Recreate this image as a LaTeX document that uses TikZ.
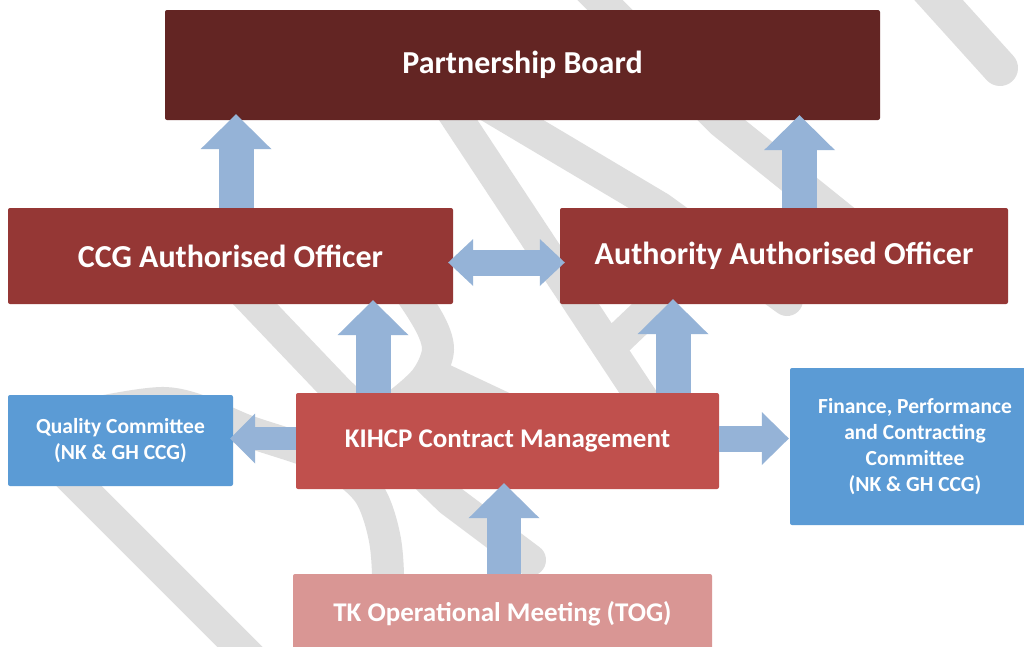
\documentclass[tikz,border=0pt]{standalone}
\usepackage{fontspec}
\setmainfont{Carlito}
\usetikzlibrary{arrows.meta,calc}
\definecolor{pbcol}{RGB}{99,37,35}
\definecolor{aocol}{RGB}{149,55,53}
\definecolor{kcol}{RGB}{192,80,77}
\definecolor{tkcol}{RGB}{217,150,148}
\definecolor{bcol}{RGB}{91,155,213}
\definecolor{acol}{RGB}{149,179,215}
\definecolor{wm}{RGB}{222,222,222}
\begin{document}
\begin{tikzpicture}[x=1pt,y=-1pt,
  box/.style={rectangle, rounded corners=2pt, inner sep=0pt, text=white, align=center},
  wmk/.style={draw=wm, line width=32pt, line cap=round, line join=round},
  uparr/.style={draw=acol, line width=35pt, -{Triangle[width=71pt,length=35pt,line width=0pt]}},
  dblarr/.style={draw=acol, line width=26pt, {Triangle[width=47pt,length=25pt,line width=0pt]}-{Triangle[width=47pt,length=25pt,line width=0pt]}},
  leftarr/.style={draw=acol, line width=23pt, -{Triangle[width=50pt,length=25pt,line width=0pt]}},
  rightarr/.style={draw=acol, line width=26pt, -{Triangle[width=53pt,length=27pt,line width=0pt]}}
]
\clip (0,0) rectangle (1024,646);
\fill[white] (0,0) rectangle (1024,646);

% watermark strokes
\draw[wmk, line width=36pt] (925,-15) -- (1000,68);
\draw[wmk] (585,-15) -- (722,122) -- (850,225);
\draw[wmk] (445,100) -- (655,418);
\draw[wmk] (470,95) -- (660,208) -- (787,300);
\draw[wmk] (612,345) -- (712,250);
\draw[wmk] (215,262) -- (337,390) -- (450,500) -- (530,560);
\draw[wmk] plot[smooth] coordinates {(330,230) (395,275) (428,320) (438,350) (425,380) (390,410) (350,430)};
\draw[wmk] (440,378) -- (610,458);
\draw[wmk] (30,437) -- (290,697);
\draw[wmk] plot[smooth] coordinates {(40,425) (165,403) (250,432) (325,458) (368,492) (385,540) (388,600) (380,670)};

% boxes
\node[box, fill=pbcol, minimum width=715pt, minimum height=110pt, font=\bfseries\fontsize{32}{38}\selectfont] (pb) at (522.5,65) {Partnership Board};
\node[box, fill=aocol, minimum width=445pt, minimum height=96pt, font=\bfseries\fontsize{32}{38}\selectfont] (ccg) at (230.5,256) {CCG Authorised Officer};
\node[box, fill=aocol, minimum width=448pt, minimum height=96pt, font=\bfseries\fontsize{32}{38}\selectfont] (auth) at (784,256) {Authority Authorised Officer};
\node[box, fill=bcol, minimum width=225pt, minimum height=91pt, font=\bfseries\fontsize{21.5}{26.5}\selectfont] (qc) at (120.5,440.5) {Quality Committee\\(NK \& GH CCG)};
\node[box, fill=kcol, minimum width=423pt, minimum height=96pt, font=\bfseries\fontsize{27}{32}\selectfont] (kihcp) at (507.5,441) {KIHCP Contract Management};
\node[box, fill=bcol, minimum width=250pt, minimum height=157pt, font=\bfseries\fontsize{21.5}{26}\selectfont] (fin) at (915,446.5) {Finance, Performance\\and Contracting\\Committee\\(NK \& GH CCG)};
\node[box, fill=tkcol, minimum width=419pt, minimum height=80pt, font=\bfseries\fontsize{27}{32}\selectfont] (tk) at (502.5,614) {TK Operational Meeting (TOG)};

% connectors
\draw[uparr, shorten >=-6pt] ([xshift=5.5pt]ccg.north) -- ([xshift=5.5pt]ccg.north |- pb.south);
\draw[uparr, shorten >=-5pt] ([xshift=15.5pt]auth.north) -- ([xshift=15.5pt]auth.north |- pb.south);
\draw[uparr, shorten >=-4pt] ([xshift=-134.5pt]kihcp.north) -- ([xshift=-134.5pt]kihcp.north |- ccg.south);
\draw[uparr, shorten >=-5pt] ([xshift=165.5pt]kihcp.north) -- ([xshift=165.5pt]kihcp.north |- auth.south);
\draw[uparr, line width=34pt, shorten >=-6pt] ([xshift=1.5pt]tk.north) -- ([xshift=1.5pt]tk.north |- kihcp.south);
\draw[dblarr, shorten <=-5pt, shorten >=-5pt] ([yshift=-6.5pt]ccg.east) -- ([yshift=-6.5pt]ccg.east -| auth.west);
\draw[leftarr, shorten >=-3pt] ([yshift=2.5pt]kihcp.west) -- ([yshift=2.5pt]kihcp.west -| qc.east);
\draw[rightarr, shorten >=1pt] ([yshift=2.5pt]kihcp.east) -- ([yshift=2.5pt]kihcp.east -| fin.west);
\end{tikzpicture}
\end{document}
